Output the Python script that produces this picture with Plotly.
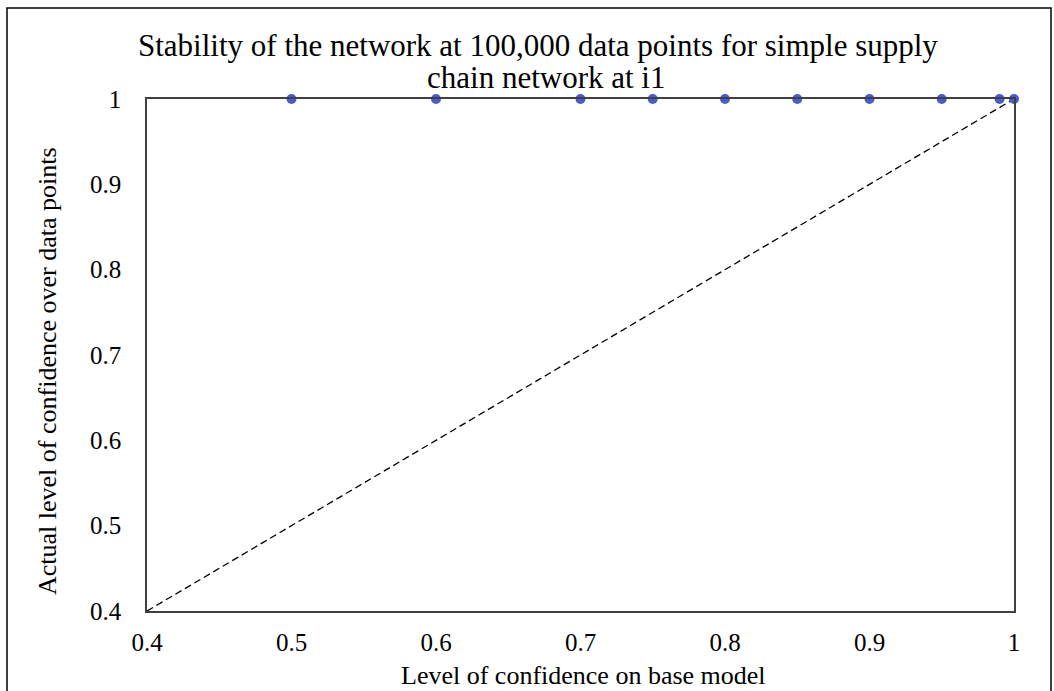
import plotly.graph_objects as go

conf_base = [0.5, 0.6, 0.7, 0.75, 0.8, 0.85, 0.9, 0.95, 0.99, 1.0]
conf_actual = [1, 1, 1, 1, 1, 1, 1, 1, 1, 1]
ref_x = [0.4, 1.0]
ref_y = [0.4, 1.0]
tick_vals = [0.4, 0.5, 0.6, 0.7, 0.8, 0.9, 1.0]

title_lines = ["Stability of the network at 100,000 data points for simple supply",
               "chain network at i1"]
x_title = "Level of confidence on base model"
y_title = "Actual level of confidence over data points"

FONT = "Liberation Serif, Times New Roman, serif"

# plot area geometry (pixels) used to place annotations in paper coordinates
L, R, T, B = 147, 1014, 99, 611
W, H = R - L, B - T
def px(x):
    return (x - L) / W
def py(y):
    return (B - y) / H

fig = go.Figure()
fig.add_trace(go.Scatter(x=ref_x, y=ref_y, mode="lines",
                         line=dict(color="black", width=1.3, dash="7px,4px"),
                         showlegend=False, hoverinfo="skip"))
fig.add_trace(go.Scatter(x=conf_base, y=conf_actual, mode="markers",
                         marker=dict(color="#4A5BD0", size=10),
                         showlegend=False, cliponaxis=False))

annotations = [
    dict(text=title_lines[0], xref="paper", yref="paper", x=px(538), y=py(45),
         xanchor="center", yanchor="middle", showarrow=False,
         font=dict(size=31, family=FONT, color="black")),
    dict(text=title_lines[1], xref="paper", yref="paper", x=px(546), y=py(77),
         xanchor="center", yanchor="middle", showarrow=False,
         font=dict(size=31, family=FONT, color="black")),
    dict(text=x_title, xref="paper", yref="paper", x=px(583), y=py(675),
         xanchor="center", yanchor="middle", showarrow=False,
         font=dict(size=26, family=FONT, color="black")),
    dict(text=y_title, xref="paper", yref="paper", x=px(47), y=py(371),
         xanchor="center", yanchor="middle", showarrow=False, textangle=-90,
         font=dict(size=26, family=FONT, color="black")),
]

fig.update_layout(
    width=1054, height=691,
    margin=dict(l=L, r=1054 - R, t=T, b=691 - B),
    paper_bgcolor="white", plot_bgcolor="white",
    font=dict(family=FONT, color="black", size=25),
    xaxis=dict(range=[0.4, 1.0], tickvals=tick_vals, showgrid=False, zeroline=False,
               showline=True, linecolor="#404040", linewidth=1.5, mirror=True,
               ticks="", tickfont=dict(size=25, family=FONT), ticklabelstandoff=8),
    yaxis=dict(range=[0.4, 1.0], tickvals=tick_vals, showgrid=False, zeroline=False,
               showline=True, linecolor="#404040", linewidth=1.5, mirror=True,
               ticks="", tickfont=dict(size=25, family=FONT), ticklabelstandoff=19),
    annotations=annotations,
    shapes=[dict(type="rect", xref="paper", yref="paper",
                 x0=px(7), x1=px(1051), y0=py(692), y1=py(8),
                 line=dict(color="black", width=1.5), layer="below")],
)

fig.write_html("out.html")
